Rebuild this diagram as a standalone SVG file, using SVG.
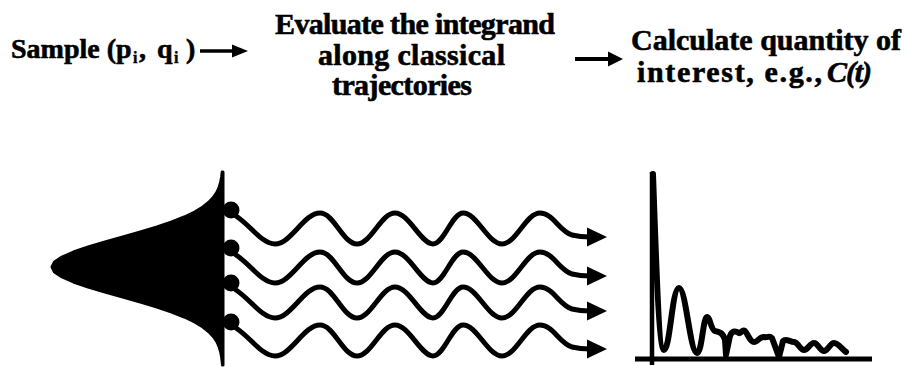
<svg xmlns="http://www.w3.org/2000/svg" width="906" height="367" viewBox="0 0 906 367">
<defs>
<style>
.t{font-size:30px;font-weight:bold;stroke:#000;stroke-width:0.6}
.s{font-size:28px;font-weight:bold;stroke:#000;stroke-width:0.6}
.sub{font-size:16px;stroke-width:0.4}
.w{fill:none;stroke:#000;stroke-width:5;stroke-linecap:round;stroke-linejoin:round}
.c{fill:none;stroke:#000;stroke-width:6;stroke-linecap:round;stroke-linejoin:round}
.ax{stroke:#000;fill:none}
</style>
<g id="traj">
<path class="w" d="M236 216 C250 225,262 244,275 244 C291 244,304 213,320 213 C334 213,343 244,357 244 C371 244,381 213,395 213 C409 213,421 244,433 244 C444 244,452 213,463 213 C477 213,488 244,502 244 C516 244,526 213,540 213 C553 213,560 232,572 235 C578 236.5,584 237,590 237"/>
<polygon points="587,227.5 607,237 587,246.5" fill="#000"/>
</g>
</defs>
<rect width="906" height="367" fill="#fff"/>

<g id="step-sample" font-family="Liberation Serif, serif" fill="#000">
<text class="s" x="11" y="58">Sample (<tspan x="116">p</tspan><tspan class="sub" x="133" dy="5">i</tspan><tspan x="139" dy="-5">,</tspan><tspan x="157">q</tspan><tspan class="sub" x="174" dy="5">i</tspan><tspan x="186" dy="-5">)</tspan></text>
</g>

<g id="step-evaluate" font-family="Liberation Serif, serif" fill="#000">
<text class="t" x="275" y="34" textLength="280">Evaluate the integrand</text>
<text class="t" x="318" y="65" textLength="187">along classical</text>
<text class="t" x="332" y="95" textLength="140">trajectories</text>
</g>

<g id="step-calculate" font-family="Liberation Serif, serif" fill="#000">
<text class="t" x="631" y="50" textLength="270">Calculate quantity of</text>
<text class="t" x="637" y="82" textLength="185">interest, e.g.,</text>
<text class="t" x="827" y="82" textLength="45" font-style="italic">C(t)</text>
</g>

<g id="connectors">
<line x1="200" y1="51" x2="234" y2="51" stroke="#000" stroke-width="3.5"/>
<polygon points="232,44.5 248,51 232,57.5" fill="#000"/>
<line x1="575" y1="59" x2="610" y2="59" stroke="#000" stroke-width="4"/>
<polygon points="608,51.5 623,59 608,66.5" fill="#000"/>
</g>

<g id="distribution">
<path d="M223 172 L222.2 172 L221.6 177 L220.7 182 L219.2 187 L217 192 L213.7 197 L209.1 202 L202.9 207 L194.6 212 L184.3 217 L171.7 222 L157 227 L140.4 232 L122.8 237 L105 242 L88.2 247 L73.4 252 L62 257 L54.5 262 L52 267 L54.5 272 L62 277 L73.4 282 L88.2 287 L105 292 L122.8 297 L140.4 302 L157 307 L171.7 312 L184.3 317 L194.6 322 L202.9 327 L209.1 332 L213.7 337 L217 342 L219.2 347 L220.7 352 L221.6 357 L222.2 362 L222.5 365 L223 365 Z" fill="#000" stroke="#000" stroke-width="3" stroke-linejoin="round"/>
<circle cx="231" cy="210" r="8.5" fill="#000"/>
<circle cx="231" cy="248" r="8.5" fill="#000"/>
<circle cx="231" cy="283" r="8.5" fill="#000"/>
<circle cx="231" cy="322" r="8.5" fill="#000"/>
</g>

<g id="trajectories">
<use href="#traj"/>
<use href="#traj" transform="translate(0,39)"/>
<use href="#traj" transform="translate(0,74)"/>
<use href="#traj" transform="translate(0,112)"/>
</g>

<g id="plot">
<line class="ax" x1="652" y1="172" x2="652" y2="365" stroke-width="4.5"/>
<line class="ax" x1="635" y1="359" x2="872" y2="359" stroke-width="5"/>
<path class="c" d="M653 174 C656 260,659 350,664 350 C670 350,672 288,679 288 C686 288,690 353,697 353 C702 353,703 317,707 317 C710 317,711 330,715 331 C720 332,723 333,725 340 L726 355 L730 336 C732 330,736 331,739 333 C741 334,742 329,745 331 C748 334,750 342,754 342 C758 342,760 336,764 337 C768 338,769 335,772 338 L779 357 L783 341 C786 338,790 342,794 342 C798 342,800 350,804 350 C808 350,810 343,814 343 C818 343,820 351,824 351 C828 351,830 343,834 343 C838 343,842 349,846 352"/>
</g>
</svg>
